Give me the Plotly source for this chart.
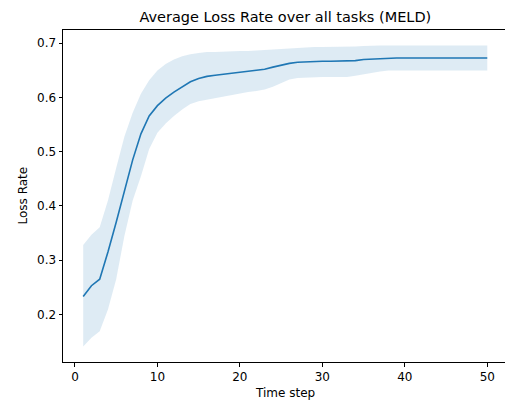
import plotly.graph_objects as go

time_steps = list(range(1, 51))

mean_loss = [0.233, 0.253, 0.265, 0.315, 0.370, 0.428, 0.485, 0.533, 0.566, 0.585,
             0.599, 0.610, 0.620, 0.629, 0.635, 0.639, 0.641, 0.643, 0.645, 0.647,
             0.649, 0.650, 0.652, 0.656, 0.660, 0.663, 0.665, 0.666, 0.666, 0.667,
             0.667, 0.667, 0.667, 0.668, 0.670, 0.671, 0.672, 0.673, 0.673, 0.673,
             0.673, 0.673, 0.673, 0.673, 0.673, 0.673, 0.673, 0.673, 0.673, 0.673]

upper_loss = [0.328, 0.347, 0.361, 0.410, 0.470, 0.528, 0.572, 0.607, 0.632, 0.650,
              0.662, 0.670, 0.676, 0.680, 0.682, 0.684, 0.684, 0.685, 0.685, 0.686,
              0.686, 0.687, 0.687, 0.688, 0.689, 0.691, 0.692, 0.693, 0.693, 0.693,
              0.693, 0.693, 0.693, 0.694, 0.695, 0.696, 0.696, 0.696, 0.696, 0.696,
              0.696, 0.696, 0.696, 0.696, 0.696, 0.696, 0.696, 0.696, 0.696, 0.696]

lower_loss = [0.141, 0.157, 0.169, 0.209, 0.265, 0.345, 0.410, 0.455, 0.505, 0.535,
              0.552, 0.566, 0.578, 0.588, 0.593, 0.596, 0.598, 0.601, 0.604, 0.607,
              0.610, 0.612, 0.615, 0.620, 0.627, 0.633, 0.636, 0.637, 0.638, 0.638,
              0.638, 0.638, 0.638, 0.640, 0.643, 0.646, 0.648, 0.650, 0.650, 0.650,
              0.650, 0.650, 0.650, 0.650, 0.650, 0.650, 0.650, 0.650, 0.650, 0.650]

x_ticks = [0, 10, 20, 30, 40, 50]
y_ticks = [0.2, 0.3, 0.4, 0.5, 0.6, 0.7]

FONT = "DejaVu Sans"
BLUE = "#1f77b4"
TXT = "#000000"

W, H = 505, 402
L, R, T, B = 63, 0, 30, 40
PW, PH = W - L - R, H - T - B

fig = go.Figure()
fig.add_trace(go.Scatter(x=time_steps, y=upper_loss, mode="lines",
                         line=dict(width=0, color=BLUE), showlegend=False, hoverinfo="skip"))
fig.add_trace(go.Scatter(x=time_steps, y=lower_loss, mode="lines",
                         line=dict(width=0, color=BLUE), fill="tonexty",
                         fillcolor="rgba(31,119,180,0.15)", showlegend=False, hoverinfo="skip"))
fig.add_trace(go.Scatter(x=time_steps, y=mean_loss, mode="lines",
                         line=dict(width=1.6, color=BLUE), showlegend=False))

fig.update_layout(
    width=W, height=H,
    margin=dict(l=L, r=R, t=T, b=B, autoexpand=False),
    paper_bgcolor="white", plot_bgcolor="white",
    font=dict(family=FONT, size=12, color=TXT),
    title=dict(text="Average Loss Rate over all tasks (MELD)",
               font=dict(family=FONT, size=14.5, color=TXT),
               x=285.3 / W, xanchor="center", xref="container",
               y=1 - 17 / H, yanchor="middle", yref="container"),
    annotations=[
        dict(text="Loss Rate", xref="paper", yref="paper",
             x=(22.5 - L) / PW, y=0.5, xanchor="center", yanchor="middle",
             textangle=-90, showarrow=False, font=dict(family=FONT, size=12, color=TXT)),
        dict(text="Time step", xref="paper", yref="paper",
             x=(285.3 - L) / PW, y=-(393 - (H - B)) / PH, xanchor="center", yanchor="middle",
             showarrow=False, font=dict(family=FONT, size=12, color=TXT)),
    ],
)
fig.update_xaxes(range=[-1.45, 52.15], tickvals=x_ticks, ticks="outside", ticklen=3.5,
                 tickwidth=1, tickcolor="#000000", showline=True, linecolor="#000000",
                 linewidth=1, mirror=True, showgrid=False, zeroline=False, automargin=False,
                 tickfont=dict(size=12))
fig.update_yaxes(range=[0.1123, 0.7245], tickvals=y_ticks, tickformat=".1f", ticks="outside",
                 ticklen=3.5, tickwidth=1, tickcolor="#000000", showline=True,
                 linecolor="#000000", linewidth=1, mirror=False, showgrid=False,
                 zeroline=False, automargin=False, tickfont=dict(size=12))

fig.write_html("out.html", config={"displayModeBar": False},
               post_script="document.body.style.margin='0';document.body.style.overflow='hidden';")
